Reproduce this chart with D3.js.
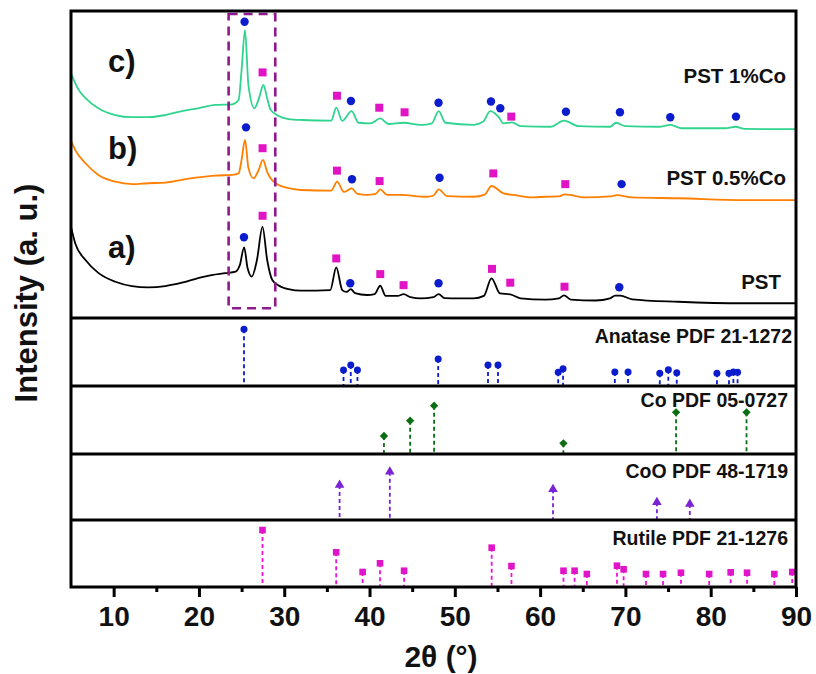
<!DOCTYPE html>
<html><head><meta charset="utf-8">
<script src="https://cdn.jsdelivr.net/npm/d3@7"></script>
<style>
html,body{margin:0;padding:0;background:#fff;}
svg{display:block;font-family:"Liberation Sans",Arial,Helvetica,sans-serif;}
</style></head>
<body>
<svg id="chart" width="816" height="674"></svg>
<script>
// ---------------- DATA ----------------
const xMajorTicks = [10, 20, 30, 40, 50, 60, 70, 80, 90];
const xMinorTicks = [15, 25, 35, 45, 55, 65, 75, 85];

// PST (a) — [2θ, intensity a.u.]
const seriesPST = [
 [5.0,29.7],[5.5,24.3],[6.7,18.9],[8.2,14.7],[10.2,11.8],[12.15,10.4],[14.06,10.0],[16.05,10.4],
 [18.0,11.5],[19.9,13.0],[21.5,14.0],[23.1,14.6],[24.3,15.1],[24.8,17.3],[25.3,23.0],[25.7,16.3],
 [26.2,13.5],[26.8,18.9],[27.45,29.7],[28.0,18.9],[28.6,12.4],[29.3,10.7],[30.5,9.4],[32.0,8.9],
 [35.4,9.1],[36.1,16.5],[36.8,9.1],[37.3,8.5],[37.8,9.4],[38.3,8.1],[39.7,7.5],[40.6,7.8],
 [41.25,10.5],[41.9,7.2],[43.3,7.2],[44.0,7.8],[44.8,6.8],[46.0,6.4],[47.5,6.8],[48.1,7.8],
 [48.8,6.5],[50.5,6.4],[52.2,6.4],[53.4,7.2],[54.3,12.9],[55.3,8.0],[56.5,7.7],[57.7,6.4],
 [60.6,6.0],[62.2,6.4],[62.8,7.4],[63.6,6.0],[66.5,5.7],[68.2,6.4],[68.8,7.3],[69.4,7.3],
 [70.8,6.1],[76.2,5.3],[84.0,4.8],[90.0,4.8]
];
// PST 0.5%Co (b)
const seriesPST05Co = [
 [5.0,57.8],[5.5,54.7],[6.7,50.4],[8.2,46.6],[10.2,44.4],[12.15,43.6],[14.06,43.9],[16.05,44.1],
 [18.0,45.0],[19.9,45.8],[21.9,46.4],[23.9,46.6],[24.65,47.1],[25.0,51.5],[25.4,58.0],[25.8,48.9],
 [26.4,45.5],[27.0,48.2],[27.5,51.5],[28.0,47.6],[28.4,45.5],[29.35,43.3],[30.5,42.3],[32.0,41.7],
 [35.5,41.5],[36.2,44.4],[37.0,41.1],[37.9,42.2],[38.6,40.4],[39.7,40.1],[40.7,40.4],[41.25,41.9],
 [42.05,40.1],[43.6,40.1],[46.7,39.5],[47.5,39.9],[48.1,41.9],[49.1,39.7],[52.2,39.5],[53.5,40.2],
 [54.3,43.0],[55.7,40.6],[56.9,40.1],[59.2,39.3],[60.6,39.5],[62.2,39.6],[62.9,40.3],[65.3,39.3],
 [68.2,39.6],[69.0,40.0],[70.8,39.3],[76.2,39.0],[84.0,38.4],[90.0,38.4]
];
// PST 1%Co (c)
const seriesPST1Co = [
 [5.0,79.7],[5.9,74.3],[6.7,71.6],[8.2,68.3],[10.2,66.1],[12.15,65.4],[14.06,65.4],[16.05,66.1],
 [18.0,67.4],[19.9,68.3],[21.9,69.4],[23.9,69.6],[24.65,71.0],[25.0,80.8],[25.4,93.8],[25.8,75.9],
 [26.5,68.3],[27.05,71.7],[27.55,75.9],[28.05,71.0],[28.4,67.8],[29.35,65.8],[30.5,64.8],[32.0,64.5],
 [35.5,64.3],[36.1,68.5],[36.8,64.2],[37.9,67.4],[38.7,63.6],[40.1,63.4],[41.25,65.0],[42.2,63.2],
 [44.0,63.6],[46.0,62.9],[47.3,63.4],[48.1,67.4],[48.9,63.6],[52.2,62.9],[53.3,63.9],[54.15,67.4],
 [55.1,65.6],[55.7,63.4],[56.7,63.7],[57.7,62.5],[61.2,62.3],[62.8,64.3],[64.5,62.5],[68.2,62.3],
 [68.9,63.6],[70.0,62.5],[73.9,62.3],[75.3,62.9],[76.6,61.8],[81.7,61.8],[82.9,62.3],[84.0,61.6],
 [90.0,61.5]
];

// phase markers on the patterns [2θ, intensity]
const anataseMarksC = [[25.35,96.5],[37.82,70.7],[48.09,70.1],[54.24,70.5],[55.33,68.3],[63.03,67.2],[69.36,67.0],[75.26,65.4],[82.96,65.6]];
const rutileMarksC  = [[27.46,80.0],[36.18,72.4],[41.14,68.5],[44.11,67.0],[56.62,65.6]];
const anataseMarksB = [[25.52,62.1],[37.94,45.2],[48.21,45.7],[69.55,43.6]];
const rutileMarksB  = [[27.46,55.3],[36.18,48.0],[41.18,44.6],[54.51,47.1],[62.95,43.6]];
const anataseMarksA = [[25.28,26.3],[37.74,11.3],[48.09,11.3],[69.28,10.0]];
const rutileMarksA  = [[27.46,33.3],[36.10,19.4],[41.26,14.3],[43.99,10.7],[54.36,16.0],[56.5,11.5],[62.86,10.2]];

// reference patterns [2θ, relative height]
const anatasePDF = [[25.28,83.4],[36.95,23.5],[37.80,30.9],[38.58,23.5],[48.05,39.7],[53.89,30.9],[55.06,30.9],
 [62.12,20.1],[62.69,25.4],[68.76,20.6],[70.31,20.6],[74.03,18.7],[75.03,24.0],[76.02,19.6],[80.73,18.7],
 [82.14,18.7],[82.66,20.6],[83.15,20.1]];
const coPDF = [[41.69,26.5],[44.76,49],[47.57,71],[62.73,15.7],[75.94,61.3],[84.20,61.3]];
const cooPDF = [[36.49,53],[42.38,73.2],[61.51,46.5],[73.69,26.8],[77.55,24.2]];
const rutilePDF = [[27.45,85],[36.09,51.8],[39.19,22.4],[41.23,35.4],[44.05,24.3],[54.32,58.7],[56.64,31.3],
 [62.74,24.3],[64.04,24.3],[65.48,19.4],[69.01,31.8],[69.79,26.4],[72.41,19.4],[74.41,19.4],[76.51,21.3],
 [79.82,19.4],[82.34,21.9],[84.26,21.3],[87.46,19.4],[89.56,22.4]];

const sampleLabels = ["PST", "PST 0.5%Co", "PST 1%Co"];
const letterLabels = ["a)", "b)", "c)"];
const panelLabels = ["Anatase PDF 21-1272", "Co PDF 05-0727", "CoO PDF 48-1719", "Rutile PDF 21-1276"];
const highlightRange = [23.48, 28.95]; // 2θ
const highlightInt = [3.2, 99.0];

// ---------------- LAYOUT ----------------
const svg = d3.select("#chart");
const L = 71, R = 796, T = 11, B = 587;
const panelBounds = [[318,386],[386,454],[454,520],[520,587]];
const x = d3.scaleLinear().domain([5, 90]).range([L, R]);
const yTop = d3.scaleLinear().domain([0, 100]).range([318, T]);

const cBlue = "#0a1ccc", cMag = "#e014c4", cGreenD = "#0b6e12", cViolet = "#7b22d4";
const lineCols = ["#000000", "#ff7f00", "#2fd48e"];

// curves
const line = d3.line().x(d => x(d[0])).y(d => yTop(d[1])).curve(d3.curveMonotoneX);
[seriesPST, seriesPST05Co, seriesPST1Co].forEach((s, i) => {
  svg.append("path").attr("d", line(s)).attr("fill", "none")
    .attr("stroke", lineCols[i]).attr("stroke-width", 1.8).attr("stroke-linejoin", "round");
});

// highlight dashed rectangle
svg.append("rect")
  .attr("x", x(highlightRange[0])).attr("y", yTop(highlightInt[1]))
  .attr("width", x(highlightRange[1]) - x(highlightRange[0]))
  .attr("height", yTop(highlightInt[0]) - yTop(highlightInt[1]))
  .attr("fill", "none").attr("stroke", "#8e1a8e").attr("stroke-width", 2.6)
  .attr("stroke-dasharray", "9,6");

// markers on patterns
function circles(data, yS, r) {
  svg.append("g").selectAll("circle").data(data).join("circle")
    .attr("cx", d => x(d[0])).attr("cy", d => yS(d[1])).attr("r", r).attr("fill", cBlue);
}
function squares(data, yS, s) {
  svg.append("g").selectAll("rect").data(data).join("rect")
    .attr("x", d => x(d[0]) - s/2).attr("y", d => yS(d[1]) - s/2)
    .attr("width", s).attr("height", s).attr("fill", cMag);
}
[anataseMarksA, anataseMarksB, anataseMarksC].forEach(d => circles(d, yTop, 4.2));
[rutileMarksA, rutileMarksB, rutileMarksC].forEach(d => squares(d, yTop, 8));

// letter labels
const letterBase = [258, 159, 72];
letterLabels.forEach((t, i) => {
  svg.append("text").attr("x", 108).attr("y", letterBase[i]).text(t)
    .attr("font-size", 31).attr("font-weight", "bold").attr("fill", "#111");
});
// sample labels
const sampleBase = [289, 185, 83], sampleEnd = [781, 786, 786];
sampleLabels.forEach((t, i) => {
  svg.append("text").attr("x", sampleEnd[i]).attr("y", sampleBase[i]).text(t)
    .attr("text-anchor", "end").attr("font-size", 20.5).attr("font-weight", "bold").attr("fill", "#111");
});

// reference stick panels
const refSets = [anatasePDF, coPDF, cooPDF, rutilePDF];
const refCols = [cBlue, cGreenD, cViolet, "#f010dc"];
const labelBase = [343, 406.5, 478, 545], labelEnd = [792, 788, 788, 788];
refSets.forEach((data, i) => {
  const [pt, pb] = panelBounds[i];
  const yS = d3.scaleLinear().domain([0, 100]).range([pb, pt]);
  const g = svg.append("g");
  g.selectAll("line").data(data).join("line")
    .attr("x1", d => x(d[0])).attr("x2", d => x(d[0]))
    .attr("y1", d => yS(d[1])).attr("y2", pb)
    .attr("stroke", refCols[i]).attr("stroke-width", 1.8).attr("stroke-dasharray", "4,3");
  if (i === 0) {
    g.selectAll("circle").data(data).join("circle")
      .attr("cx", d => x(d[0])).attr("cy", d => yS(d[1])).attr("r", 3.5).attr("fill", refCols[i]);
  } else if (i === 1) {
    g.selectAll("path").data(data).join("path")
      .attr("d", d3.symbol(d3.symbolDiamond2, 44)())
      .attr("transform", d => `translate(${x(d[0])},${yS(d[1])})`).attr("fill", refCols[i]);
  } else if (i === 2) {
    g.selectAll("path").data(data).join("path")
      .attr("d", d3.symbol(d3.symbolTriangle, 40)())
      .attr("transform", d => `translate(${x(d[0])},${yS(d[1])})`).attr("fill", refCols[i]);
  } else {
    g.selectAll("rect").data(data).join("rect")
      .attr("x", d => x(d[0]) - 3.3).attr("y", d => yS(d[1]) - 3.3)
      .attr("width", 6.6).attr("height", 6.6).attr("fill", "#e014c8");
  }
  svg.append("text").attr("x", labelEnd[i]).attr("y", labelBase[i]).text(panelLabels[i])
    .attr("text-anchor", "end").attr("font-size", 19.5).attr("font-weight", "bold").attr("fill", "#111");
});

// frame and separators
svg.append("rect").attr("x", L).attr("y", T).attr("width", R - L).attr("height", B - T)
  .attr("fill", "none").attr("stroke", "#000").attr("stroke-width", 3);
panelBounds.forEach(([pt]) => {
  svg.append("line").attr("x1", L).attr("x2", R).attr("y1", pt).attr("y2", pt)
    .attr("stroke", "#000").attr("stroke-width", 3);
});

// x axis
const axisG = svg.append("g").attr("transform", `translate(0,${B})`);
axisG.call(d3.axisBottom(x).tickValues(xMajorTicks).tickSize(10).tickPadding(9).tickFormat(d3.format("d")));
axisG.select(".domain").remove();
axisG.selectAll(".tick line").attr("stroke", "#000").attr("stroke-width", 3);
axisG.selectAll(".tick text").attr("font-size", 28).attr("font-weight", "bold").attr("fill", "#111")
  .attr("font-family", '"Liberation Sans",Arial,sans-serif');
const minorG = svg.append("g").attr("transform", `translate(0,${B})`);
minorG.call(d3.axisBottom(x).tickValues(xMinorTicks).tickSize(5).tickFormat(""));
minorG.select(".domain").remove();
minorG.selectAll(".tick line").attr("stroke", "#000").attr("stroke-width", 3);

// axis titles
svg.append("text").attr("x", 441).attr("y", 667).attr("text-anchor", "middle")
  .attr("font-size", 30).attr("font-weight", "bold").attr("fill", "#111").text("2θ (°)");
svg.append("text").attr("transform", "translate(37,293) rotate(-90)").attr("text-anchor", "middle")
  .attr("font-size", 31).attr("font-weight", "bold").attr("fill", "#111").text("Intensity (a. u.)");
</script>
</body></html>
